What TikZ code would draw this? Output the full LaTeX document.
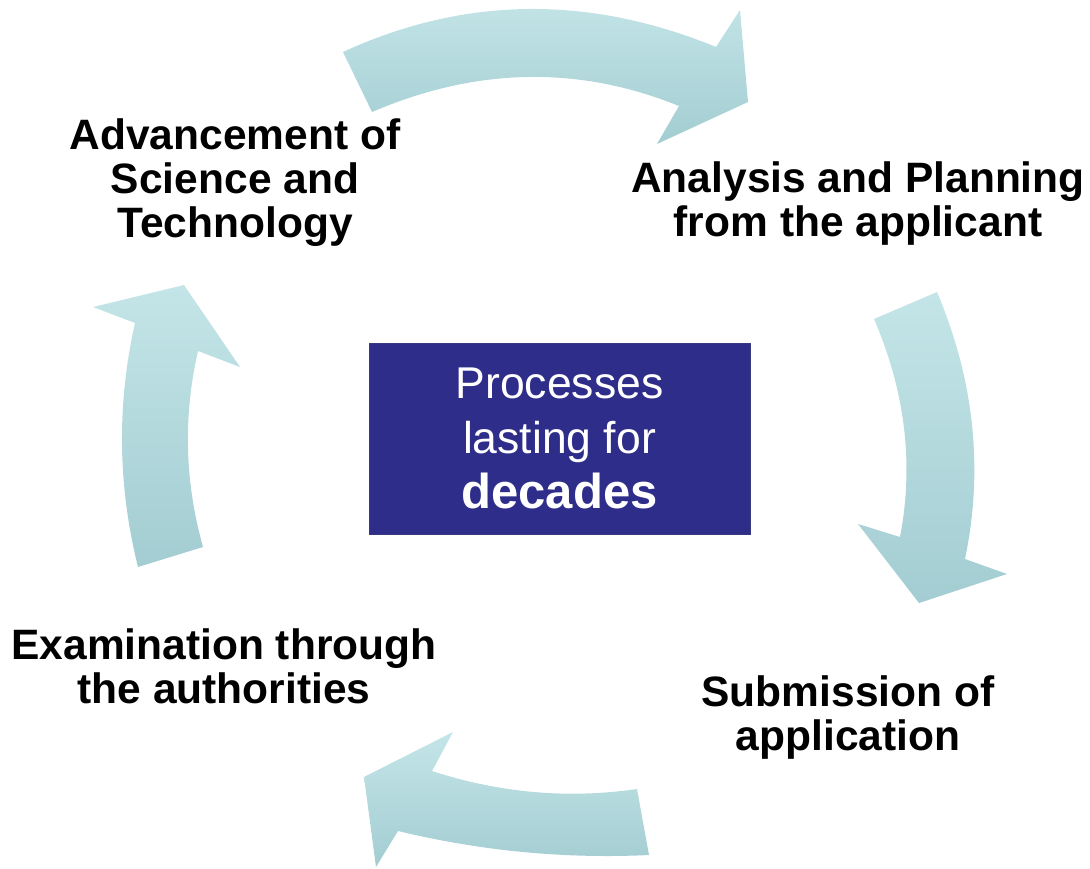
\documentclass[tikz,border=0pt]{standalone}
\usepackage{fontspec}
\setmainfont{Liberation Sans}
\usepackage{tikz}

\definecolor{arrowtop}{RGB}{196,229,232}
\definecolor{arrowmid}{RGB}{187,226,229}
\definecolor{arrowbot}{RGB}{163,205,210}
\definecolor{hubfill}{RGB}{46,46,138}
\definecolor{hubline}{RGB}{58,58,128}

\tikzset{
  cyclearrow/.style={top color=arrowtop, middle color=arrowmid, bottom color=arrowbot, draw=none},
  stage/.style={align=center, font=\fontsize{42.5}{44}\selectfont\bfseries},
  hub/.style={draw=hubline, line width=1pt, fill=hubfill, text=white, align=center,
    minimum width=381pt, minimum height=191pt, font=\fontsize{44.5}{55}\selectfont}
}

\begin{document}
\begin{tikzpicture}[x=1pt,y=-1pt]
\useasboundingbox (0,0) rectangle (1090,868);

\path[cyclearrow] (343,52) .. controls (464,-3.7) and (588.3,-5.3) .. (716,47) -- (740,10) -- (748,102)
  -- (657,144) -- (679,106) .. controls (578.7,65.3) and (476.3,67.3) .. (372,112) -- cycle;
\path[cyclearrow] (937,292) .. controls (974.3,380.3) and (983.7,469.3) .. (965,559) -- (1007,574) -- (919,603)
  -- (858,524) -- (900,537) .. controls (914,464.3) and (905.3,391.7) .. (874,319) -- cycle;
\path[cyclearrow] (649,855) .. controls (564.7,859) and (481,851) .. (398,831) -- (376,867) -- (364,777)
  -- (453,732) -- (432,771) .. controls (499.7,793) and (568,799) .. (637,789) -- cycle;
\path[cyclearrow] (138,567) .. controls (117.7,485.7) and (116.7,404.3) .. (135,323) -- (93,307) -- (184,285)
  -- (240,367) -- (198,351) .. controls (183,416.3) and (184.7,481.7) .. (203,547) -- cycle;

\node[stage] (science) at (235,182.7) {Advancement of\\Science and\\Technology};
\node[stage] (planning) at (858,204) {Analysis and Planning\\from the applicant};
\node[stage] (submission) at (848,717.5) {Submission of\\application};
\node[stage] (examination) at (224,666) {Examination through\\the authorities};

\node[hub] (decades) at (559.5,438.5) {Processes\\lasting for\\{\fontsize{49}{55}\selectfont\bfseries decades}};
\end{tikzpicture}
\end{document}
